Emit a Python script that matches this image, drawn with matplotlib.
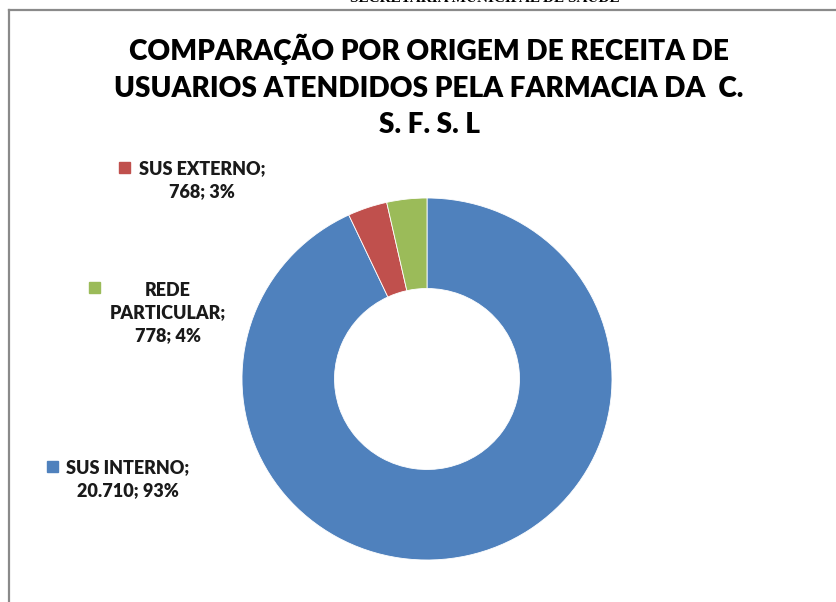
import matplotlib
matplotlib.use("Agg")
import matplotlib.pyplot as plt
from matplotlib.lines import Line2D
from matplotlib.patches import Rectangle

categories = ["SUS INTERNO", "SUS EXTERNO", "REDE PARTICULAR"]
values = [20710, 768, 778]
value_labels = ["20.710", "768", "778"]
percent_labels = ["93%", "3%", "4%"]
colors = ["#4F81BD", "#C0504D", "#9BBB59"]
title = "COMPARAÇÃO POR ORIGEM DE RECEITA DE\nUSUARIOS ATENDIDOS PELA FARMACIA DA  C.\nS. F. S. L"

W, H = 836, 602
fig = plt.figure(figsize=(W / 100, H / 100), dpi=100)
fig.patch.set_facecolor("white")

def fx(px):
    return px / W

def fy(py):
    return 1 - py / H

# cut-off header text at the very top
fig.text(fx(485), fy(2), "SECRETARIA MUNICIPAL DE SAUDE", ha="center", va="baseline",
         fontsize=11, fontweight="bold", family="Liberation Serif", color="black")

# frame lines
fig.add_artist(Line2D([fx(8.5), fx(8.5)], [fy(10), 0], transform=fig.transFigure,
                      color="#8a8a8a", lw=1.6))
fig.add_artist(Line2D([fx(8.5), 1], [fy(10), fy(10)], transform=fig.transFigure,
                      color="#8a8a8a", lw=1.6))

# donut
cx, cy, rx, ry = 427, 379, 185, 181
ax = fig.add_axes([fx(cx - rx), fy(cy + ry), (2 * rx) / W, (2 * ry) / H])
ax.pie(values, colors=colors, startangle=90, counterclock=False, radius=1,
       wedgeprops=dict(width=0.5, edgecolor="white", linewidth=0.6))
ax.set_xlim(-1, 1)
ax.set_ylim(-1, 1)
ax.set_aspect("auto")
ax.axis("off")

# title
fig.text(fx(429), fy(86), title, ha="center", va="center", fontsize=20.2,
         fontweight="heavy", family="Lato", linespacing=1.5, color="#000000")

# data labels (text center x, block center y, marker x, marker y)
label_specs = {
    "SUS EXTERNO": (["SUS EXTERNO;", "{v}; {p}"], 202, 180, 124, 167),
    "REDE PARTICULAR": (["REDE", "PARTICULAR;", "{v}; {p}"], 168, 313, 94, 287),
    "SUS INTERNO": (["SUS INTERNO;", "{v}; {p}"], 128, 479, 52, 466),
}
for cat, val, pct, col in zip(categories, value_labels, percent_labels, colors):
    lines, tx, ty, mx, my = label_specs[cat]
    txt = "\n".join(l.format(v=val, p=pct) for l in lines)
    fig.text(fx(tx), fy(ty), txt, ha="center", va="center", fontsize=13,
             fontweight="heavy", family="Lato", linespacing=1.42, color="#1a1a1a")
    fig.add_artist(Rectangle((fx(mx - 5.5), fy(my + 5.5)), 11 / W, 11 / H,
                             transform=fig.transFigure, color=col))

fig.savefig("out.png", dpi=100)
